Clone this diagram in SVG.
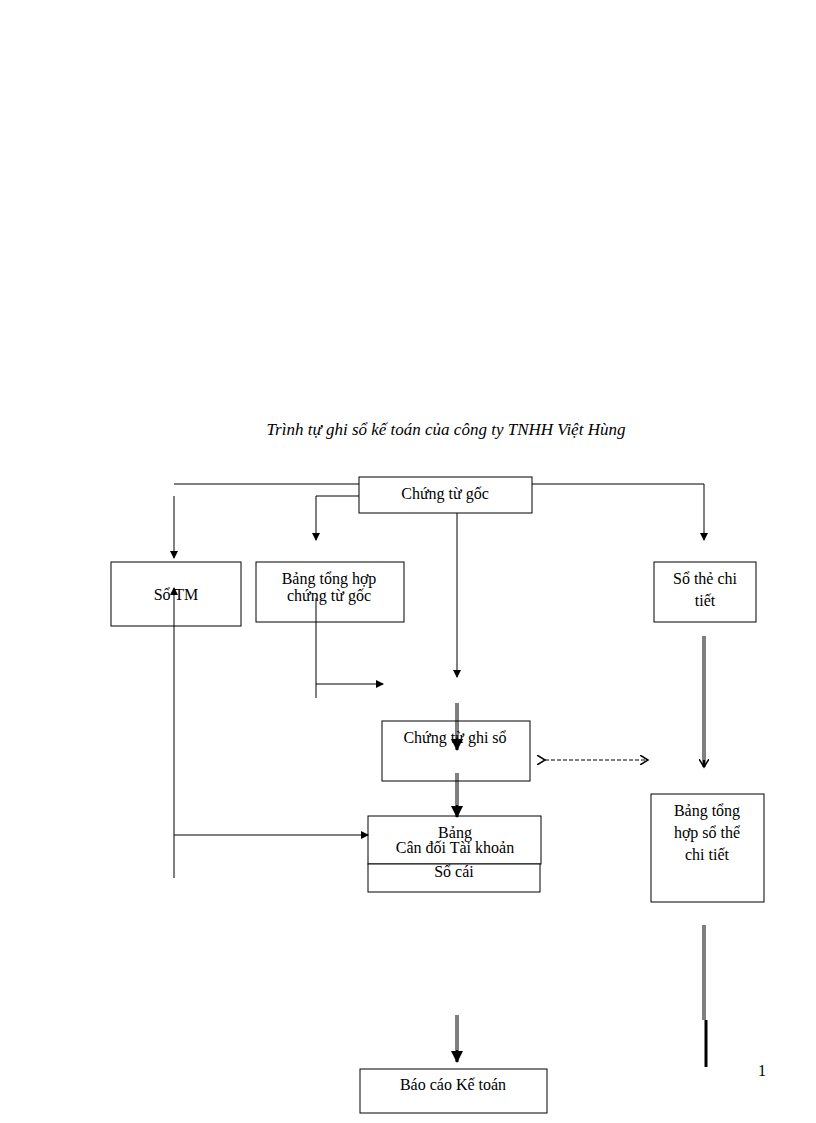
<svg xmlns="http://www.w3.org/2000/svg" width="816" height="1123" viewBox="0 0 816 1123">
<style>
text{font-family:"Liberation Serif",serif;font-size:16px;fill:#000;text-anchor:middle}
.b{fill:#fff;stroke:#000;stroke-width:1}
.l{fill:none;stroke:#000;stroke-width:1}
.d{fill:none;stroke:#000;stroke-width:3}
.w{fill:none;stroke:#fff;stroke-width:1}
</style>
<defs>
<marker id="a" markerWidth="8" markerHeight="8" refX="7" refY="4" orient="auto" markerUnits="userSpaceOnUse"><path d="M0,0L8,4L0,8z"/></marker>
<marker id="A" markerWidth="12" markerHeight="12" refX="11" refY="6" orient="auto" markerUnits="userSpaceOnUse"><path d="M0,0L12,6L0,12z"/></marker>
<marker id="o" markerWidth="10" markerHeight="10" refX="8" refY="5" orient="auto" markerUnits="userSpaceOnUse"><path d="M0,0L8,5L0,10" fill="none" stroke="#000" stroke-width="1.5"/></marker>
</defs>
<text x="446" y="435" style="font-style:italic;font-size:17px">Trình tự ghi sổ kế toán của công ty TNHH Việt Hùng</text>
<g id="connectors">
<path class="l" d="M174,484H359M532,484H704V540" marker-end="url(#a)"/>
<path class="l" d="M174,496V558" marker-end="url(#a)"/>
<path class="l" d="M359,496H316V540" marker-end="url(#a)"/>
<path class="l" d="M457,509V677" marker-end="url(#a)"/>
<path class="l" d="M316,598V698M316,684H383" marker-end="url(#a)"/>
<path class="l" d="M174,878V588" marker-end="url(#a)"/>
<path class="l" d="M174,835H368" marker-end="url(#a)"/>
<path class="d" d="M704,636V767" marker-end="url(#o)"/><path class="w" d="M704,636V760"/>
<path class="d" d="M457,703V750" marker-end="url(#A)"/><path class="w" d="M457,703V738"/>
<path class="d" d="M457,773V817" marker-end="url(#A)"/><path class="w" d="M457,773V805"/>
<path class="l" d="M545,760H648" stroke-dasharray="4,2" stroke-width="2" marker-end="url(#o)" marker-start="url(#o)"/>
<path class="d" d="M704,925V1020"/><path class="w" d="M704,925V1020"/>
<path class="d" d="M706,1020V1067"/>
<path class="d" d="M457,1015V1062" marker-end="url(#A)"/><path class="w" d="M457,1015V1050"/>
</g>
<g id="n1"><rect class="b" x="359" y="477" width="173" height="36"/><text x="445" y="499">Chứng từ gốc</text></g>
<g id="n2"><rect class="b" x="111" y="562" width="130" height="64" style="fill:none"/><text x="176" y="600">Sổ TM</text></g>
<g id="n3"><rect class="b" x="256" y="562" width="148" height="60" style="fill:none"/><text x="329" y="584">Bảng tổng hợp</text><text x="329" y="601">chứng từ gốc</text></g>
<g id="n4"><rect class="b" x="654" y="562" width="102" height="60"/><text x="705" y="584">Sổ thẻ chi</text><text x="705" y="606">tiết</text></g>
<g id="n5"><rect class="b" x="382" y="721" width="148" height="60" style="fill:none"/><text x="455" y="743">Chứng từ ghi sổ</text></g>
<g id="n6"><rect class="b" x="368" y="816" width="173" height="48" style="fill:none"/><text x="455" y="838">Bảng</text><text x="455" y="853">Cân đối Tài khoản</text></g>
<g id="n7"><rect class="b" x="368" y="864" width="172" height="28"/><text x="454" y="877">Sổ cái</text></g>
<g id="n8"><rect class="b" x="651" y="794" width="113" height="108"/><text x="707" y="816">Bảng tổng</text><text x="707" y="838">hợp sổ thể</text><text x="707" y="860">chi tiết</text></g>
<g id="n9"><rect class="b" x="360" y="1069" width="187" height="44"/><text x="453" y="1090">Báo cáo Kế toán</text></g>
<text x="762" y="1076">1</text>
</svg>
